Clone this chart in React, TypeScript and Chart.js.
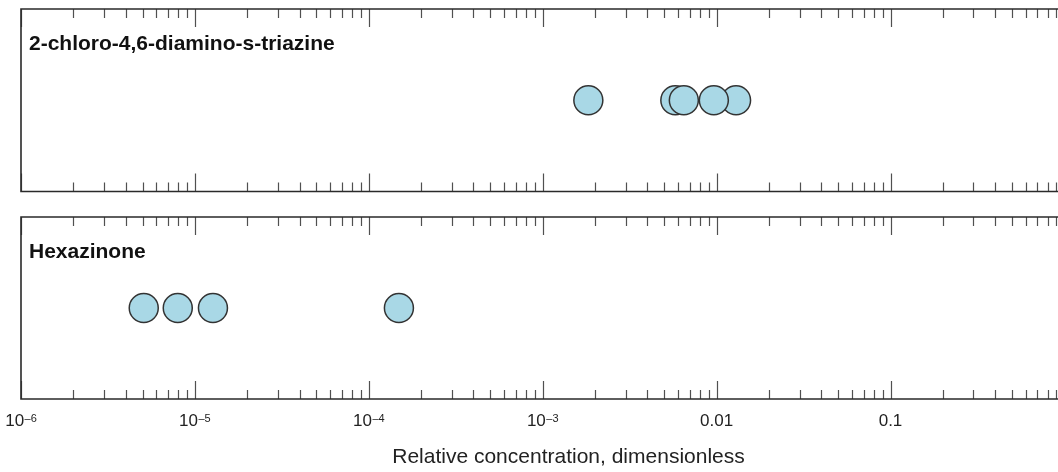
import React, { useEffect, useRef } from 'react';
import { Chart, registerables } from 'chart.js';

Chart.register(...registerables);

// ---- data ----
const panelTitles = ['2-chloro-4,6-diamino-s-triazine', 'Hexazinone'];
const triazineValues = [0.00183, 0.00579, 0.01294, 0.00648, 0.00964];
const hexazinoneValues = [0.00000508, 0.00000797, 0.0000127, 0.000149];
const majorTicks = [1e-6, 1e-5, 1e-4, 1e-3, 0.01, 0.1, 1];
const tickBases = ['10', '10', '10', '10', '0.01', '0.1', ''];
const tickExponents = ['–6', '–5', '–4', '–3', '', '', ''];
const minorSteps = [2, 3, 4, 5, 6, 7, 8, 9];
const axisTitle = 'Relative concentration, dimensionless';
const xMin = 1e-6;
const xMax = 1;

const FONT = "'Liberation Sans', Arial, sans-serif";
const CANVAS_W = 1072;
const PLOT_RIGHT = 1064.4;

const framePlugin = {
  id: 'panelFrame',
  beforeDatasetsDraw(chart: any, _args: any, opts: any) {
    const { ctx, chartArea, scales } = chart;
    const { left, top, right, bottom } = chartArea;
    const x = scales.x;
    ctx.save();
    // tick marks pointing inward, top and bottom
    ctx.strokeStyle = '#505050';
    ctx.lineWidth = 1.2;
    ctx.beginPath();
    majorTicks.forEach((m) => {
      [1, ...minorSteps].forEach((s) => {
        const v = m * s;
        if (v > xMax * 1.0001) return;
        const px = Math.round(x.getPixelForValue(v)) + 0.5;
        const len = s === 1 ? 18 : 9;
        ctx.moveTo(px, top);
        ctx.lineTo(px, top + len);
        ctx.moveTo(px, bottom);
        ctx.lineTo(px, bottom - len);
      });
    });
    ctx.stroke();
    // frame
    ctx.strokeStyle = '#2a2a2a';
    ctx.lineWidth = 1.6;
    ctx.beginPath();
    ctx.moveTo(right, top);
    ctx.lineTo(left, top);
    ctx.lineTo(left, bottom);
    ctx.lineTo(right, bottom);
    ctx.lineTo(right, top);
    ctx.stroke();
    // panel title
    ctx.fillStyle = '#111';
    ctx.font = `bold 21px ${FONT}`;
    ctx.textAlign = 'left';
    ctx.textBaseline = 'alphabetic';
    ctx.fillText(opts.title, left + 8, top + 40.5);

    if (opts.showAxis) {
      // tick labels, placed by the x scale
      const base = bottom + 27;
      ctx.fillStyle = '#222';
      ctx.textAlign = 'left';
      majorTicks.forEach((v, i) => {
        const b = tickBases[i];
        if (!b) return;
        const e = tickExponents[i];
        ctx.font = `17px ${FONT}`;
        const wb = ctx.measureText(b).width;
        ctx.font = `11px ${FONT}`;
        const we = e ? ctx.measureText(e).width + 0.5 : 0;
        const px = x.getPixelForValue(v);
        const start = px - (wb + we) / 2;
        ctx.font = `17px ${FONT}`;
        ctx.fillText(b, start, base);
        if (e) {
          ctx.font = `11px ${FONT}`;
          ctx.fillText(e, start + wb + 0.5, base - 4.5);
        }
      });
      // axis title
      ctx.fillStyle = '#222';
      ctx.font = `21px ${FONT}`;
      ctx.textAlign = 'center';
      ctx.fillText(axisTitle, 568.5, chart.height - 8.7);
    }
    ctx.restore();
  },
};

function Panel({ values, title, showAxis, height }: { values: number[]; title: string; showAxis: boolean; height: number }) {
  const ref = useRef<HTMLCanvasElement>(null);
  useEffect(() => {
    const chart = new Chart(ref.current as HTMLCanvasElement, {
      type: 'scatter',
      data: {
        datasets: [
          {
            data: values.map((v) => ({ x: v, y: 0 })),
            pointRadius: 14.5,
            pointHoverRadius: 14.5,
            backgroundColor: '#a9d8e6',
            borderColor: '#333',
            borderWidth: 1.5,
            clip: false as any,
          },
        ],
      },
      options: {
        animation: false,
        responsive: false,
        maintainAspectRatio: false,
        events: [],
        layout: {
          autoPadding: false,
          padding: { left: 21, right: CANVAS_W - PLOT_RIGHT, top: 9, bottom: showAxis ? 0 : 8.5 },
        },
        plugins: {
          legend: { display: false },
          tooltip: { enabled: false },
          panelFrame: { title, showAxis },
        } as any,
        scales: {
          x: {
            type: 'logarithmic',
            min: xMin,
            max: xMax,
            display: showAxis,
            afterBuildTicks: (s: any) => {
              s.ticks = majorTicks.map((v) => ({ value: v, major: true }));
            },
            afterFit: (s: any) => {
              if (showAxis) s.height = 73;
              s.paddingLeft = 0;
              s.paddingRight = 0;
            },
            grid: { display: false, drawTicks: false },
            border: { display: false },
            ticks: { display: false },
            title: { display: false },
          },
          y: { display: false, min: -1, max: 1 },
        },
      } as any,
      plugins: [framePlugin],
    });
    return () => chart.destroy();
  }, [values, title, showAxis]);
  return <canvas ref={ref} width={CANVAS_W} height={height} style={{ display: 'block' }} />;
}

export default function App() {
  return (
    <div
      style={{
        position: 'fixed',
        left: 0,
        top: 0,
        width: 1058,
        height: 472,
        overflow: 'hidden',
        background: '#fff',
      }}
    >
      <div style={{ position: 'absolute', left: 0, top: 0 }}>
        <Panel values={triazineValues} title={panelTitles[0]} showAxis={false} height={200} />
      </div>
      <div style={{ position: 'absolute', left: 0, top: 208 }}>
        <Panel values={hexazinoneValues} title={panelTitles[1]} showAxis={true} height={264} />
      </div>
    </div>
  );
}
